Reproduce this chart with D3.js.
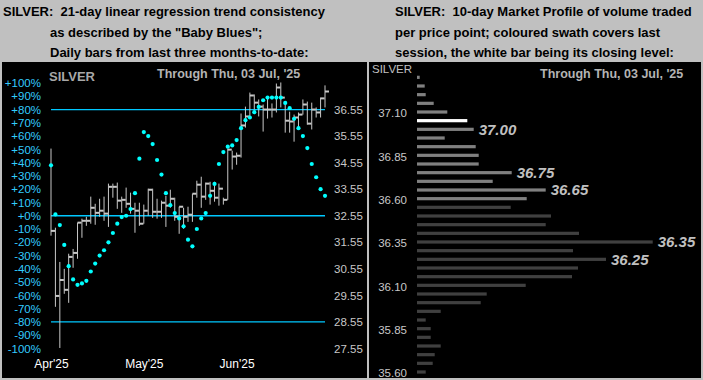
<!DOCTYPE html>
<html>
<head>
<meta charset="utf-8">
<script src="https://cdn.jsdelivr.net/npm/d3@7/dist/d3.min.js"></script>
<style>
  body { margin: 0; background: #c0c0c0; }
  svg { display: block; font-family: "Liberation Sans", Arial, sans-serif; }
</style>
</head>
<body>
<div id="chart"></div>
<script>
const FRAME_WIDTH = 703;
const FRAME_HEIGHT = 380;

// ---- left panel data: daily bars, Apr'25 .. 03 Jul '25 ----
const HIGHS = [35.08, 32.10, 30.81, 30.55, 31.12, 31.30, 32.29, 32.44, 32.51, 33.27,
               33.00, 33.19, 33.27, 33.76, 33.76, 33.80, 33.27, 33.61, 33.42, 33.04,
               33.04, 32.97, 33.57, 33.57, 33.19, 33.12, 33.30, 33.53, 33.23, 32.89,
               32.85, 32.89, 33.38, 33.87, 34.02, 33.80, 33.83, 33.83, 33.76, 33.23,
               35.08, 35.00, 34.93, 36.40, 36.66, 37.19, 37.12, 36.93, 36.74, 37.00,
               36.78, 37.53, 37.57, 36.85, 36.47, 36.36, 36.44, 36.93, 36.85, 36.81,
               36.63, 37.00, 37.46];
const LOWS  = [31.80, 29.12, 27.57, 29.61, 29.27, 30.59, 30.93, 31.72, 32.17, 32.25,
               32.21, 32.51, 32.36, 32.13, 33.23, 32.81, 32.66, 32.85, 32.63, 31.91,
               32.17, 32.25, 32.55, 32.47, 32.44, 32.47, 32.13, 32.85, 32.36, 31.87,
               32.06, 32.32, 32.32, 33.23, 32.85, 33.15, 32.97, 33.08, 32.93, 32.97,
               33.15, 34.29, 34.47, 34.74, 35.87, 36.25, 36.55, 36.29, 35.72, 36.21,
               36.25, 36.44, 36.63, 35.68, 35.68, 35.34, 35.87, 36.36, 35.98, 35.80,
               36.25, 36.25, 36.63];
const CLOSES = [31.98, 29.53, 30.13, 29.76, 31.00, 31.15, 32.29, 32.36, 32.36, 32.85,
                32.66, 32.74, 32.63, 33.64, 33.64, 33.12, 33.15, 33.00, 32.81, 32.74,
                32.25, 32.74, 33.53, 32.70, 32.70, 33.04, 32.93, 33.19, 32.51, 32.89,
                32.51, 32.59, 33.38, 33.72, 33.27, 33.76, 33.49, 33.23, 33.57, 33.15,
                35.04, 34.78, 34.81, 35.95, 36.29, 37.08, 36.81, 36.66, 36.55, 36.55,
                36.55, 37.38, 37.00, 36.13, 36.10, 36.25, 36.36, 36.74, 36.02, 36.55,
                36.44, 36.97, 37.23];
// "Baby Blues": 21-day linear regression trend consistency, in percent
const BABY_BLUES = [38, 1, -7, -22, -38, -48, -52, -51, -49, -42,
                    -36, -30, -26, -20, -13, -6, -1, 0, 5, 17,
                    43, 63, 60, 54, 42, 31, 17, 8, 2, -2,
                    -8, -18, -23, -10, -2, 2, 15, 24, 39, 48,
                    52, 53, 57, 66, 72, 74, 78, 82, 87, 89,
                    89, 89, 89, 85, 81, 73, 66, 60, 51, 39,
                    29, 20, 15];
const MONTH_TICKS = [0, 21, 42];
const MONTH_LABELS = ["Apr'25", "May'25", "Jun'25"];
const PCT_TICKS = d3.range(100, -101, -10);
const PRICE_TICKS = [36.55, 35.55, 34.55, 33.55, 32.55, 31.55, 30.55, 29.55, 28.55, 27.55];
const REF_LINES = [80, 0, -80];

// ---- right panel data: 10-day market profile ----
const PROFILE_PRICES = d3.range(0, 35).map(i => +(37.30 - i * 0.05).toFixed(2));
const PROFILE_VOLUME = [2.7, 7.7, 8.7, 16.7, 30.3, 50.3, 56.7, 27.7, 58.7, 61.7,
                        61.7, 94.7, 75.7, 128.7, 109.7, 93.7, 134, 128.7, 162, 235.7,
                        156, 189, 161, 155, 108.7, 69.7, 63.7, 23.7, 8.7, 13.7,
                        13.7, 23.7, 17.7, 15.7, 8.7];
const LAST_HIGH = 37.30;
const LAST_LOW = 36.60;
const LAST_CLOSE = 37.05;
const PEAK_LABELS = [37.00, 36.75, 36.65, 36.35, 36.25];
const PROFILE_TICKS = [37.10, 36.85, 36.60, 36.35, 36.10, 35.85, 35.60];

const SVG = d3.select("#chart")
  .append("svg")
    .attr("width", FRAME_WIDTH)
    .attr("height", FRAME_HEIGHT);

// grey header + black chart area
SVG.append("rect").attr("x", 0).attr("y", 0).attr("width", FRAME_WIDTH).attr("height", FRAME_HEIGHT)
  .attr("fill", "#c0c0c0");
SVG.append("rect").attr("x", 2).attr("y", 62).attr("width", 699).attr("height", 316)
  .attr("fill", "#000");
SVG.append("line").attr("x1", 368).attr("x2", 368).attr("y1", 62).attr("y2", 378)
  .attr("stroke", "#fff").attr("stroke-width", 1.5);

// header texts
const HEADER_LEFT = ["SILVER:  21-day linear regression trend consistency",
                     "as described by the \"Baby Blues\";",
                     "Daily bars from last three months-to-date:"];
const HEADER_RIGHT = ["SILVER:  10-day Market Profile of volume traded",
                      "per price point; coloured swath covers last",
                      "session, the white bar being its closing level:"];
const HEADER_Y = [16, 36.5, 57];

SVG.selectAll(".hl").data(HEADER_LEFT).enter().append("text")
  .attr("x", (d, i) => i === 0 ? 3 : 50)
  .attr("y", (d, i) => HEADER_Y[i])
  .attr("font-size", "13px").attr("font-weight", "bold").attr("fill", "#000")
  .attr("xml:space", "preserve")
  .text(d => d);
SVG.selectAll(".hr").data(HEADER_RIGHT).enter().append("text")
  .attr("x", 395)
  .attr("y", (d, i) => HEADER_Y[i])
  .attr("font-size", "13px").attr("font-weight", "bold").attr("fill", "#000")
  .attr("xml:space", "preserve")
  .text(d => d);

// ---- left panel scales ----
const X_SCALE = d3.scaleLinear().domain([0, 62]).range([51, 325]);
const Y_PCT = d3.scaleLinear().domain([-100, 100]).range([348.5, 83]);
const Y_PRICE = d3.scaleLinear().domain([28.55, 36.55]).range([Y_PCT(-80), Y_PCT(80)]);

// percent axis (left)
SVG.append("g")
  .attr("transform", "translate(41,0)")
  .call(d3.axisLeft(Y_PCT).tickValues(PCT_TICKS).tickSize(0).tickPadding(0)
        .tickFormat(d => (d >= 0 ? "+" : "") + d + "%"))
  .call(g => g.select(".domain").remove())
  .call(g => g.selectAll("text").attr("fill", "#33ccff").attr("font-size", "11.5px")
              .attr("font-family", "\"Liberation Sans\", Arial, sans-serif"));

// price axis (right)
SVG.append("g")
  .attr("transform", "translate(334,0)")
  .call(d3.axisRight(Y_PRICE).tickValues(PRICE_TICKS).tickSize(0).tickPadding(0)
        .tickFormat(d3.format(".2f")))
  .call(g => g.select(".domain").remove())
  .call(g => g.selectAll("text").attr("fill", "#c8c8c8").attr("font-size", "11.5px")
              .attr("font-family", "\"Liberation Sans\", Arial, sans-serif"));

// month axis
SVG.append("g")
  .attr("transform", "translate(0,359)")
  .call(d3.axisBottom(X_SCALE).tickValues(MONTH_TICKS).tickSize(0).tickPadding(0)
        .tickFormat((d, i) => MONTH_LABELS[i]))
  .call(g => g.select(".domain").remove())
  .call(g => g.selectAll("text").attr("fill", "#fff").attr("font-size", "12px")
              .attr("font-family", "\"Liberation Sans\", Arial, sans-serif"));

// reference lines at +80%, 0%, -80%
SVG.selectAll(".ref").data(REF_LINES).enter().append("line")
  .attr("x1", 51).attr("x2", 325)
  .attr("y1", d => Y_PCT(d)).attr("y2", d => Y_PCT(d))
  .attr("stroke", "#00c8ff").attr("stroke-width", 1.3);

// price bars: high-low plus close tick
const BARS = SVG.append("g").attr("stroke", "#c8c8c8");
BARS.selectAll(".hl").data(HIGHS).enter().append("line")
  .attr("x1", (d, i) => X_SCALE(i)).attr("x2", (d, i) => X_SCALE(i))
  .attr("y1", d => Y_PRICE(d)).attr("y2", (d, i) => Y_PRICE(LOWS[i]))
  .attr("stroke-width", 1);
BARS.selectAll(".cl").data(CLOSES).enter().append("line")
  .attr("x1", (d, i) => X_SCALE(i)).attr("x2", (d, i) => X_SCALE(i) + 4)
  .attr("y1", d => Y_PRICE(d)).attr("y2", d => Y_PRICE(d))
  .attr("stroke-width", 2);

// Baby Blues dots
SVG.selectAll(".bb").data(BABY_BLUES).enter().append("circle")
  .attr("cx", (d, i) => X_SCALE(i))
  .attr("cy", d => Y_PCT(d))
  .attr("r", 2.1)
  .attr("fill", "#00ffff");

SVG.append("text").attr("x", 49).attr("y", 81)
  .attr("font-size", "13px").attr("font-weight", "bold").attr("fill", "#a8a8a8")
  .text("SILVER");
SVG.append("text").attr("x", 157).attr("y", 78)
  .attr("font-size", "12.5px").attr("font-weight", "bold").attr("fill", "#b4b4b4")
  .text("Through Thu, 03 Jul, '25");

// ---- right panel: market profile ----
const Y_PROF = d3.scaleLinear().domain([35.60, 37.10]).range([372, 112]);
const X_VOL = d3.scaleLinear().domain([0, 100]).range([0, 100]);
const PROF_X0 = 417;

SVG.append("g")
  .attr("transform", "translate(407,1)")
  .call(d3.axisLeft(Y_PROF).tickValues(PROFILE_TICKS).tickSize(0).tickPadding(0)
        .tickFormat(d3.format(".2f")))
  .call(g => g.select(".domain").remove())
  .call(g => g.selectAll("text").attr("fill", "#c8c8c8").attr("font-size", "11.5px")
              .attr("font-family", "\"Liberation Sans\", Arial, sans-serif"));

SVG.selectAll(".pf").data(PROFILE_PRICES).enter().append("rect")
  .attr("x", PROF_X0)
  .attr("y", d => Y_PROF(d) - 1.6)
  .attr("width", (d, i) => X_VOL(PROFILE_VOLUME[i]))
  .attr("height", 3.2)
  .attr("fill", d => Math.abs(d - LAST_CLOSE) < 0.001 ? "#ffffff"
                     : (d <= LAST_HIGH + 0.001 && d >= LAST_LOW - 0.001) ? "#808080" : "#404040");

SVG.selectAll(".pk").data(PEAK_LABELS).enter().append("text")
  .attr("x", d => PROF_X0 + X_VOL(PROFILE_VOLUME[PROFILE_PRICES.findIndex(p => Math.abs(p - d) < 0.001)]) + 5)
  .attr("y", d => Y_PROF(d))
  .attr("dy", "0.36em")
  .attr("font-size", "15px").attr("font-weight", "bold").attr("font-style", "italic")
  .attr("fill", "#c0c0c0")
  .text(d => d3.format(".2f")(d));

SVG.append("text").attr("x", 372).attr("y", 73)
  .attr("font-size", "11.5px").attr("fill", "#c0c0c0")
  .text("SILVER");
SVG.append("text").attr("x", 540).attr("y", 78)
  .attr("font-size", "12.5px").attr("font-weight", "bold").attr("fill", "#b4b4b4")
  .text("Through Thu, 03 Jul, '25");
</script>
</body>
</html>
